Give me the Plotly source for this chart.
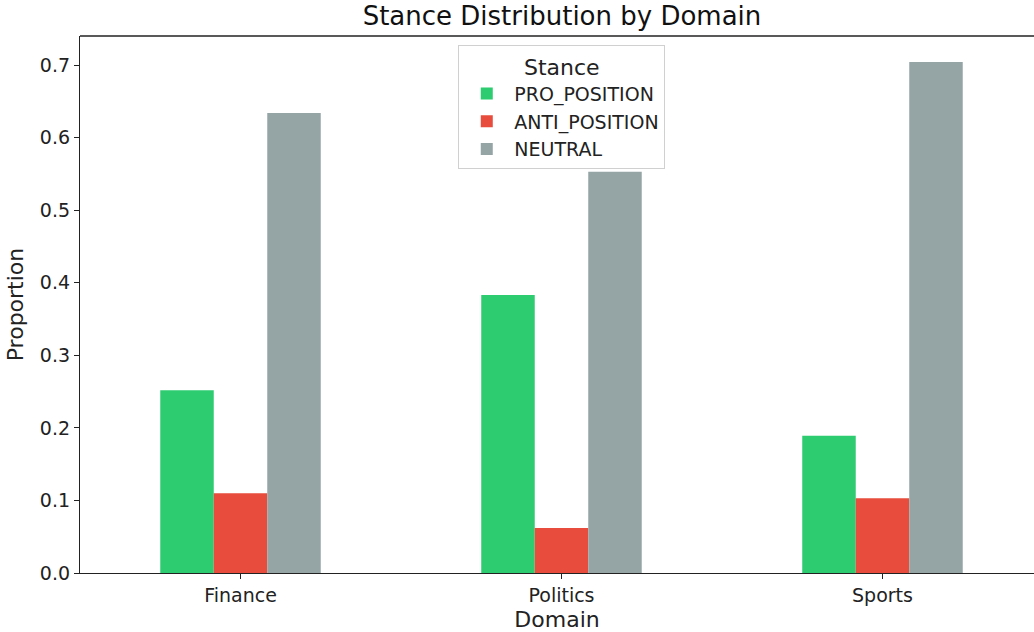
import plotly.graph_objects as go

domains = ["Finance", "Politics", "Sports"]
stances = ["PRO_POSITION", "ANTI_POSITION", "NEUTRAL"]
pro_position = [0.252, 0.383, 0.189]
anti_position = [0.110, 0.062, 0.103]
neutral = [0.634, 0.553, 0.704]
colors = ["#2ecc71", "#e74c3c", "#95a5a6"]

series = [pro_position, anti_position, neutral]
xpos = list(range(len(domains)))

fig = go.Figure()
for name, vals, col in zip(stances, series, colors):
    fig.add_trace(go.Bar(x=xpos, y=vals, name=name, marker=dict(color=col, line=dict(width=0))))

font = "DejaVu Sans"
fig.update_layout(
    width=1034, height=632,
    margin=dict(l=80, r=0, t=36, b=59),
    paper_bgcolor="white", plot_bgcolor="white",
    barmode="group", bargap=0.5, bargroupgap=0,
    font=dict(family=font, color="#222", size=19),
    title=dict(text="Stance Distribution by Domain", x=0.5435, xanchor="center", y=0.9747, yanchor="middle",
               font=dict(size=26, color="#111")),
    xaxis=dict(range=[-0.5, 2.472], tickmode="array", tickvals=xpos, ticktext=domains,
               showline=True, linecolor="#222", linewidth=1.3, ticks="outside", ticklen=5, tickcolor="#222",
               showgrid=False, zeroline=False, mirror=False,
               title=dict(text="Domain", font=dict(size=22), standoff=7), tickfont=dict(size=19)),
    yaxis=dict(range=[0, 0.740], tickmode="array", tickvals=[0, 0.1, 0.2, 0.3, 0.4, 0.5, 0.6, 0.7],
               ticktext=["0.0", "0.1", "0.2", "0.3", "0.4", "0.5", "0.6", "0.7"],
               showline=True, linecolor="#222", linewidth=1.3, ticks="outside", ticklen=5, tickcolor="#222",
               showgrid=False, zeroline=False,
               title=dict(text="Proportion", font=dict(size=22), standoff=10), tickfont=dict(size=19)),
    legend=dict(x=0.505, xanchor="center", y=0.983, yanchor="top", itemwidth=45,
                bgcolor="rgba(255,255,255,0.85)", bordercolor="#d0d0d0", borderwidth=1,
                font=dict(size=19), title=dict(text="Stance", side="top center", font=dict(size=22))),
    showlegend=True,
)
# top spine
fig.add_shape(type="line", xref="paper", yref="paper", x0=0, x1=1, y0=1, y1=1,
              line=dict(color="#222", width=1.3))

fig.write_html("out.html", config={"displayModeBar": False},
               post_script="document.body.style.margin='0';")
